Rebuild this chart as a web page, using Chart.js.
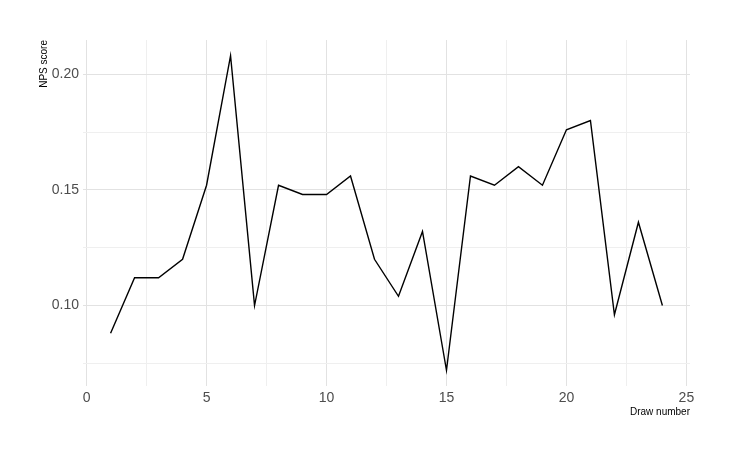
<!DOCTYPE html>
<html lang="en">

<head>
  <meta charset="UTF-8">
  <title>NPS score by draw</title>
  <style>
    html, body {
      margin: 0;
      padding: 0;
      background: #fff;
    }

    .wrap {
      width: 730px;
      height: 459px;
      position: relative;
    }
  </style>
  <script src="https://cdn.jsdelivr.net/npm/chart.js"></script>
</head>

<body>
  <div class="wrap"><canvas id="npsChart" width="730" height="459"></canvas></div>

  <script>
    // values
    const drawNumber = [1, 2, 3, 4, 5, 6, 7, 8, 9, 10, 11, 12, 13, 14, 15, 16, 17, 18, 19, 20, 21, 22, 23, 24];
    const npsScore = [0.088, 0.112, 0.112, 0.120, 0.152, 0.208, 0.100, 0.152, 0.148, 0.148, 0.156, 0.120,
      0.104, 0.132, 0.072, 0.156, 0.152, 0.160, 0.152, 0.176, 0.180, 0.096, 0.136, 0.100];

    // grid positions (major ones get a label)
    const xTicks = [0, 2.5, 5, 7.5, 10, 12.5, 15, 17.5, 20, 22.5, 25];
    const xLabels = ['0', '5', '10', '15', '20', '25'];
    const yTicks = [0.075, 0.10, 0.125, 0.15, 0.175, 0.20];
    const yLabels = ['0.10', '0.15', '0.20'];

    const tickFont = { family: "'Liberation Sans', Arial, sans-serif", size: 14 };
    const titleFont = { family: "'Liberation Sans', Arial, sans-serif", size: 10 };

    function labelFor(list, v, digits) {
      const s = digits ? v.toFixed(digits) : String(v);
      return list.includes(s) ? s : '';
    }

    function gridColor(list, digits) {
      return ctx => {
        const v = ctx.tick ? ctx.tick.value : null;
        if (v === null) return '#ececec';
        const s = digits ? v.toFixed(digits) : String(v);
        return list.includes(s) ? '#e2e2e2' : '#efefef';
      };
    }

    const ctx = document.getElementById('npsChart').getContext('2d');
    const chart = new Chart(ctx, {
      type: 'line',
      data: {
        datasets: [{
          data: drawNumber.map((d, i) => ({ x: d, y: npsScore[i] })),
          borderColor: '#000',
          borderWidth: 1.4,
          pointRadius: 0,
          tension: 0,
          fill: false
        }]
      },
      options: {
        responsive: false,
        animation: false,
        layout: { padding: { left: 0, right: 40, top: 40, bottom: 0 } },
        plugins: {
          legend: { display: false },
          tooltip: { enabled: false }
        },
        scales: {
          x: {
            type: 'linear',
            min: -0.15,
            max: 25.15,
            afterBuildTicks: s => { s.ticks = xTicks.map(v => ({ value: v })); },
            afterFit: s => { s.height = 73; },
            border: { display: false },
            grid: { color: gridColor(xLabels, 0), lineWidth: 1, drawTicks: false },
            ticks: {
              autoSkip: false,
              maxRotation: 0,
              padding: 4,
              color: '#4d4d4d',
              font: tickFont,
              callback: v => labelFor(xLabels, v, 0)
            },
            title: {
              display: true,
              text: 'Draw number',
              align: 'end',
              color: '#000',
              font: titleFont,
              padding: { top: 0, bottom: 41 }
            }
          },
          y: {
            type: 'linear',
            min: 0.0652,
            max: 0.2148,
            afterBuildTicks: s => { s.ticks = yTicks.map(v => ({ value: v })); },
            afterFit: s => { s.width = 83; },
            border: { display: false },
            grid: { color: gridColor(yLabels, 2), lineWidth: 1, drawTicks: false },
            ticks: {
              autoSkip: false,
              padding: 4,
              color: '#4d4d4d',
              font: tickFont,
              callback: v => labelFor(yLabels, v, 2)
            },
            title: {
              display: true,
              text: 'NPS score',
              align: 'end',
              color: '#000',
              font: titleFont,
              padding: { top: 38.5, bottom: 0 }
            }
          }
        }
      }
    });
  </script>
</body>

</html>
